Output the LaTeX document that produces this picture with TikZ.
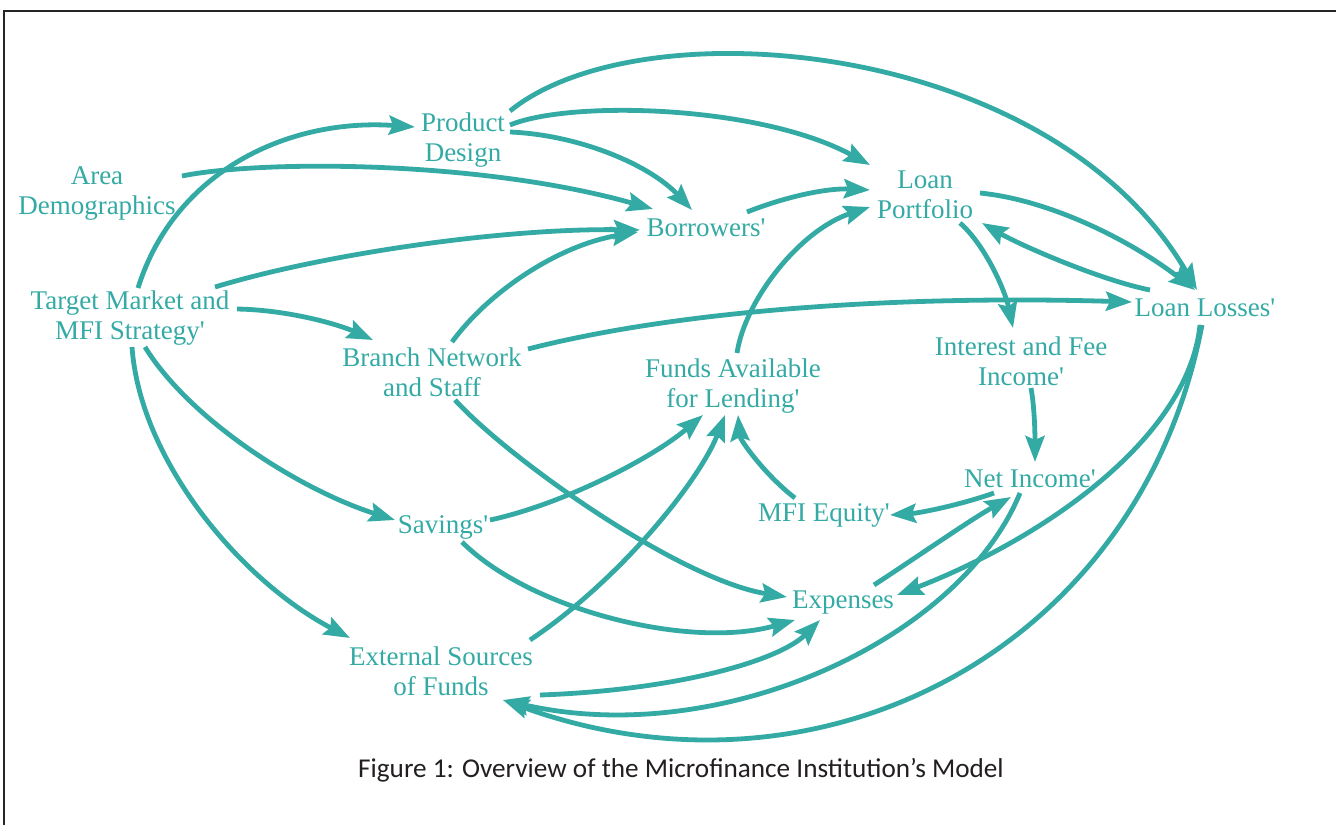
\documentclass[tikz,border=0pt]{standalone}
\usepackage{fontspec}
\setmainfont{Liberation Serif}
\newfontfamily\capfont{Carlito}
\usetikzlibrary{arrows.meta}
\definecolor{teal1}{RGB}{52,170,165}
\definecolor{capgray}{RGB}{35,31,32}
\newcommand{\ap}{\textquotesingle}
\begin{document}
\begin{tikzpicture}[x=1pt,y=-1pt,
  lbl/.style={text=teal1, font=\fontsize{27}{30}\selectfont, align=center, inner sep=0pt},
  conn/.style={draw=teal1, line width=4.8pt, -{Stealth[length=26pt,width=19pt,inset=4pt]}},
  frameline/.style={draw=black!85, line width=2pt}
  ]
\useasboundingbox (0,0) rectangle (1336,825);
\fill[white] (0,0) rectangle (1336,825);
\draw[frameline] (3,11) -- (1336,11);
\draw[frameline] (4,11) -- (4,825);

% nodes
\node[lbl] (ad) at (97,193) {Area\\Demographics};
\node[lbl] (pd) at (463,140) {Product\\Design};
\node[lbl] (tm) at (130,318) {Target Market and\\MFI Strategy\ap};
\node[lbl] (bo) at (706,228) {Borrowers\ap};
\node[lbl] (lp) at (925,195) {Loan\\Portfolio};
\node[lbl] (ll) at (1205,308) {Loan Losses\ap};
\node[lbl] (bn) at (432,372) {Branch Network\\and Staff};
\node[lbl] (fa) at (733,386) {Funds Available\\for Lending\ap};
\node[lbl] (ifi) at (1021,361) {Interest and Fee\\Income\ap};
\node[lbl] (ni) at (1030,479) {Net Income\ap};
\node[lbl] (eq) at (824,515) {MFI Equity\ap};
\node[lbl] (sv) at (443,527) {Savings\ap};
\node[lbl] (ex) at (843,603) {Expenses};
\node[lbl] (es) at (441,671) {External Sources\\of Funds};
\node[text=capgray, inner sep=0pt, font=\capfont\fontsize{27.2}{30}\selectfont] (cap) at (681,770) {Figure 1: Overview of the Microfinance Institution’s Model};

% connectors
\draw[conn] ([shift={(8,-30)}]tm.center) .. controls (175,170) and (290,118) .. ([shift={(-48,-13)}]pd.center);
\draw[conn] ([shift={(85,-17)}]ad.center) .. controls (260,160) and (480,160) .. ([shift={(-53,-19)}]bo.center);
\draw[conn] ([shift={(85,-31)}]tm.center) .. controls (320,255) and (500,228) .. ([shift={(-66,2)}]bo.center);
\draw[conn] ([shift={(107,-9)}]tm.center) .. controls (290,310) and (340,325) .. ([shift={(-59,-32)}]bn.center);
\draw[conn] ([shift={(15,29)}]tm.center) .. controls (190,420) and (300,490) .. ([shift={(-48,-7)}]sv.center);
\draw[conn] ([shift={(2,29)}]tm.center) .. controls (140,460) and (240,580) .. ([shift={(-91,-33)}]es.center);
\draw[conn] ([shift={(47,-8)}]pd.center) .. controls (580,135) and (650,165) .. ([shift={(-14,-18)}]bo.center);
\draw[conn] ([shift={(47,-15)}]pd.center) .. controls (570,100) and (760,105) .. ([shift={(-55,-30)}]lp.center);
\draw[conn] ([shift={(47,-29)}]pd.center) .. controls (640,5) and (1050,38) .. ([shift={(-8,-18)}]ll.center);
\draw[conn] ([shift={(20,-30)}]bn.center) .. controls (490,290) and (560,245) .. ([shift={(-68,4)}]bo.center);
\draw[conn] ([shift={(96,-23)}]bn.center) .. controls (680,310) and (900,295) .. ([shift={(-73,-6)}]ll.center);
\draw[conn] ([shift={(23,28)}]bn.center) .. controls (510,460) and (680,580) .. ([shift={(-56,-6)}]ex.center);
\draw[conn] ([shift={(41,-16)}]bo.center) .. controls (790,195) and (830,188) .. ([shift={(-55,-5)}]lp.center);
\draw[conn] ([shift={(4,-33)}]fa.center) .. controls (745,300) and (800,230) .. ([shift={(-55,12)}]lp.center);
\draw[conn] ([shift={(55,-2)}]lp.center) .. controls (1050,200) and (1130,240) .. ([shift={(-10,-18)}]ll.center);
\draw[conn] ([shift={(-55,-18)}]ll.center) .. controls (1100,280) and (1020,245) .. ([shift={(57,28)}]lp.center);
\draw[conn] ([shift={(35,28)}]lp.center) .. controls (985,245) and (1005,290) .. ([shift={(-8,-33)}]ifi.center);
\draw[conn] ([shift={(10,27)}]ifi.center) .. controls (1035,410) and (1035,440) .. ([shift={(5,-17)}]ni.center);
\draw[conn] ([shift={(-36,14)}]ni.center) .. controls (960,505) and (920,513) .. ([shift={(66,0)}]eq.center);
\draw[conn] ([shift={(-29,-17)}]eq.center) .. controls (765,475) and (740,440) .. ([shift={(5,29)}]fa.center);
\draw[conn] ([shift={(47,-7)}]sv.center) .. controls (560,505) and (650,460) .. ([shift={(-30,29)}]fa.center);
\draw[conn] ([shift={(89,-31)}]es.center) .. controls (620,580) and (700,480) .. ([shift={(-8,29)}]fa.center);
\draw[conn] ([shift={(19,15)}]sv.center) .. controls (530,610) and (690,650) .. ([shift={(-48,17)}]ex.center);
\draw[conn] ([shift={(31,-18)}]ex.center) .. controls (920,555) and (970,520) .. ([shift={(-19,18)}]ni.center);
\draw[conn] ([shift={(-5,17)}]ll.center) .. controls (1188,440) and (1040,540) .. ([shift={(54,-8)}]ex.center);
\draw[conn] ([shift={(99,24)}]es.center) .. controls (680,690) and (780,660) .. ([shift={(-23,17)}]ex.center);
\draw[conn] ([shift={(-10,14)}]ni.center) .. controls (960,640) and (720,750) .. ([shift={(62,29)}]es.center);
\draw[conn] ([shift={(-3,17)}]ll.center) .. controls (1140,650) and (820,815) .. ([shift={(62,29)}]es.center);
\end{tikzpicture}
\end{document}
